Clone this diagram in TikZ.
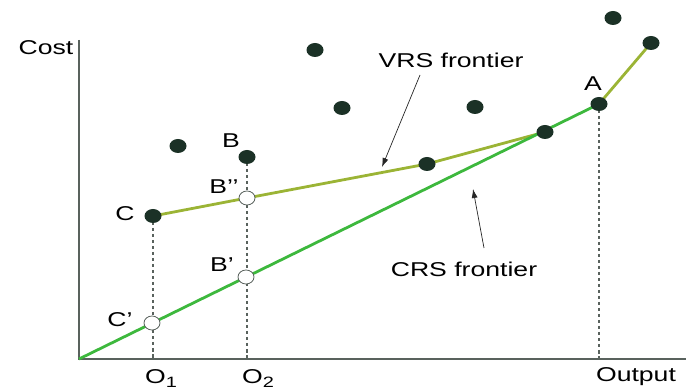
\documentclass[tikz,border=0pt]{standalone}
\usepackage{fontspec}
\setmainfont{Liberation Sans}
\usepackage{tikz}
\usetikzlibrary{arrows.meta,shapes.geometric}
\definecolor{dotgreen}{HTML}{1B3126}
\definecolor{vrsolive}{HTML}{9BB435}
\definecolor{crsgreen}{HTML}{3DB83D}
\definecolor{axisgray}{HTML}{59625D}
\newcommand{\wide}[1]{\scalebox{1.33}[1]{#1}}
\newcommand{\lowsub}[1]{\raisebox{-4pt}{\fontsize{15}{15}\selectfont #1}}
\begin{document}
\begin{tikzpicture}[x=1pt, y=-1pt,
		firm/.style={ellipse, fill=dotgreen, inner sep=0pt, minimum width=17pt, minimum height=14pt},
		proj/.style={ellipse, draw=axisgray, fill=white, line width=0.8pt, inner sep=0pt, minimum width=16pt, minimum height=14pt},
		lbl/.style={text=black, inner sep=0pt, font=\fontsize{20}{24}\selectfont}]
		\useasboundingbox (0, 0) rectangle (686, 390);
		\coordinate (origin) at (79, 359);
		\coordinate (ytop) at (79, 40);
		\coordinate (xend) at (686, 359);
		\coordinate (o1) at (153, 359);
		\coordinate (o2) at (247, 359);
		\coordinate (oA) at (599, 359);
		\draw[axisgray, line width=1.4pt]
			(ytop) -- (origin) -- (xend)
		;
		\path
		\foreach \n/\x/\y in {
			C/153/216, B/247/157, d1/178/146, d2/315/50,
			d3/342/108, d4/475/107, v1/427/164, v2/545/132,
			A/599/104, d5/613/18, v3/651/43,
			Bpp/247/198, Bp/246/277, Cp/152/323} {
			(\x, \y) coordinate (\n)
		};
		\draw[axisgray, line width=1.1pt, dash pattern=on 3.5pt off 2.5pt]
			(C) -- (o1)
			(B) -- (o2)
			(A) -- (oA)
		;
		\draw[vrsolive, line width=2.8pt]
			(C) -- (Bpp) -- (v1) -- (v2)
			(A) -- (v3)
		;
		\draw[crsgreen, line width=2.8pt] (origin) -- (A);
		\foreach \n in {C, B, d1, d2, d3, d4, v1, v2, A, d5, v3} {
			\node[firm] (f\n) at (\n) {};
		}
		\foreach \n in {Bpp, Bp, Cp} {
			\node[proj] (f\n) at (\n) {};
		}
		\foreach \n/\x/\y/\t in {
			cost/46/48/Cost, lB/231/141/B, lBpp/224/187/B’’,
			lC/125/214/C, lBp/222/265/B’, lCp/120/320/C’,
			lA/593/84/A, out/636/377/Output,
			vrs/451/60/VRS frontier, crs/464/269/CRS frontier} {
			\node[lbl] (\n) at (\x, \y) {\wide{\t}};
		}
		\node[lbl] (lo1) at (161, 379) {\wide{O\lowsub{1}}};
		\node[lbl] (lo2) at (258, 379) {\wide{O\lowsub{2}}};
		\coordinate (vrstail) at (420, 75);
		\coordinate (vrshead) at (382, 167);
		\coordinate (crstail) at (484, 248);
		\coordinate (crshead) at (473, 189);
		\draw[black!85, line width=0.7pt, -{Latex[length=9pt, width=6pt]}]
			(vrstail) -- (vrshead)
		;
		\draw[black!85, line width=0.7pt, -{Latex[length=9pt, width=6pt]}]
			(crstail) -- (crshead)
		;
	\end{tikzpicture}
\end{document}
